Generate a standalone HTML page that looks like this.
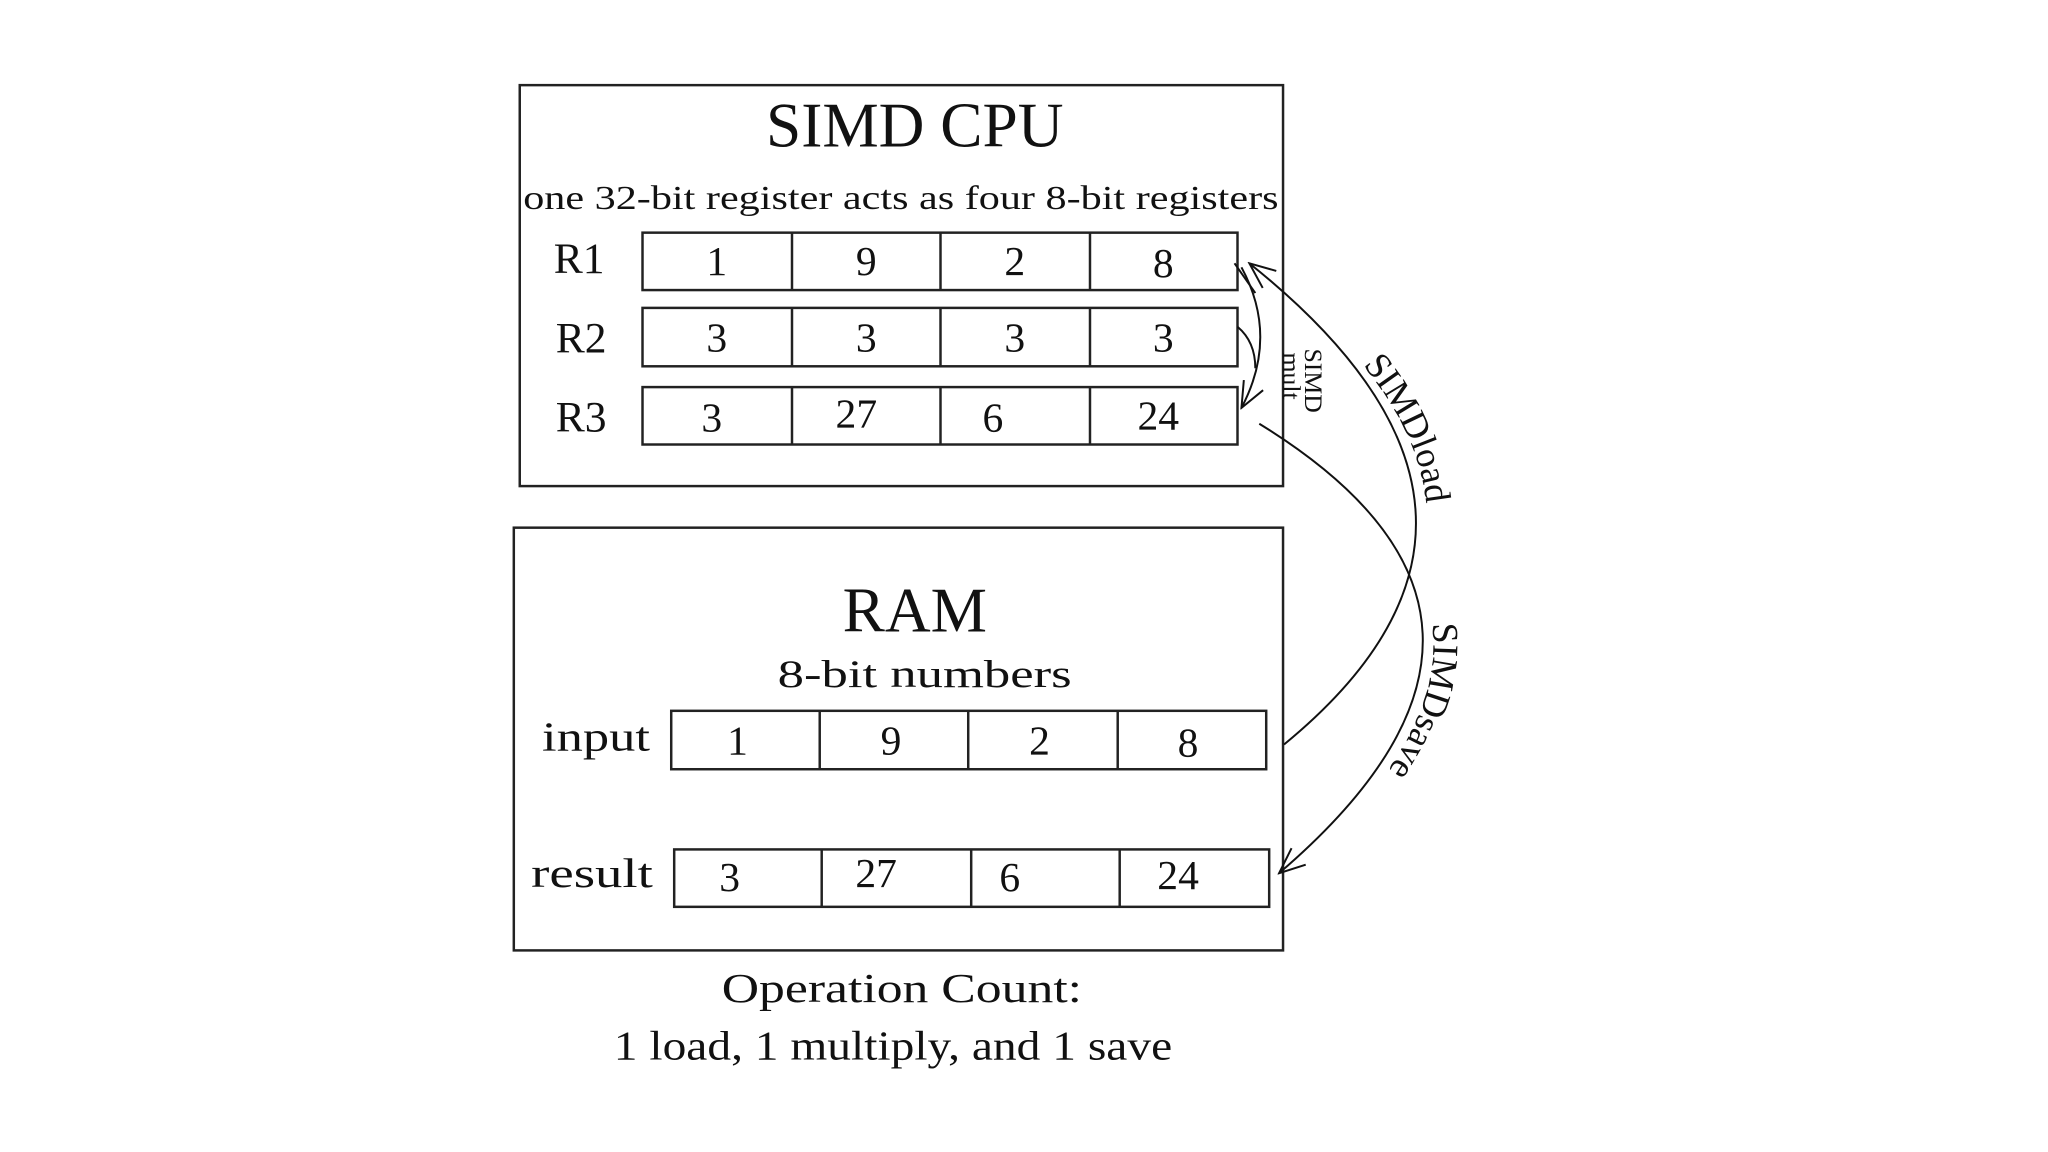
<!DOCTYPE html>
<html><head><meta charset="utf-8"><style>
html,body{margin:0;padding:0;background:#fff;}
svg{display:block;}
text{font-family:"Liberation Serif",serif;fill:#111;}
</style></head><body>
<svg width="2048" height="1152" viewBox="0 0 2048 1152" xmlns="http://www.w3.org/2000/svg">
<defs>
<marker id="ah" markerWidth="30" markerHeight="30" refX="28" refY="15" orient="auto" markerUnits="userSpaceOnUse">
<path d="M2,4 L28,15 L2,26" fill="none" stroke="#111" stroke-width="2"/>
</marker>
<path id="tl" d="M1262,262 Q1598,514 1305,752"/>
<path id="ts" d="M1272,422 Q1608,625 1302,884"/>
</defs>
<g transform="scale(0.99)">
<g fill="none" stroke="#222" stroke-width="2.5">
<rect x="525" y="86" width="771" height="405"/>
<rect x="519" y="533" width="777" height="427"/>
<rect x="649" y="235" width="601" height="58"/>
<line x1="800" y1="235" x2="800" y2="293"/><line x1="950" y1="235" x2="950" y2="293"/><line x1="1101" y1="235" x2="1101" y2="293"/>
<rect x="649" y="311" width="601" height="59"/>
<line x1="800" y1="311" x2="800" y2="370"/><line x1="950" y1="311" x2="950" y2="370"/><line x1="1101" y1="311" x2="1101" y2="370"/>
<rect x="649" y="391" width="601" height="58"/>
<line x1="800" y1="391" x2="800" y2="449"/><line x1="950" y1="391" x2="950" y2="449"/><line x1="1101" y1="391" x2="1101" y2="449"/>
<rect x="678" y="718" width="601" height="59"/>
<line x1="828" y1="718" x2="828" y2="777"/><line x1="978" y1="718" x2="978" y2="777"/><line x1="1129" y1="718" x2="1129" y2="777"/>
<rect x="681" y="858" width="601" height="58"/>
<line x1="830" y1="858" x2="830" y2="916"/><line x1="981" y1="858" x2="981" y2="916"/><line x1="1131" y1="858" x2="1131" y2="916"/>
</g>
<g fill="none" stroke="#111" stroke-width="2">
<path d="M1297,752 Q1580,520 1262,266" marker-end="url(#ah)"/>
<path d="M1272,428 Q1592,625 1292,882" marker-end="url(#ah)"/>
<path d="M1254,270 Q1292,340 1254,412" marker-end="url(#ah)"/>
<path d="M1250,330 Q1268,345 1268,372"/>
<path d="M1247,266 L1268,296"/>
</g>
<g text-anchor="middle">
<text x="924" y="148" font-size="64">SIMD CPU</text>
<text x="910" y="211" font-size="34" textLength="763" lengthAdjust="spacingAndGlyphs">one 32-bit register acts as four 8-bit registers</text>
<text x="585" y="276" font-size="44">R1</text>
<text x="587" y="356" font-size="44">R2</text>
<text x="587" y="436" font-size="44">R3</text>
<g font-size="42">
<text x="724" y="278">1</text><text x="875" y="278">9</text><text x="1025" y="278">2</text><text x="1175" y="280">8</text>
<text x="724" y="355">3</text><text x="875" y="355">3</text><text x="1025" y="355">3</text><text x="1175" y="355">3</text>
<text x="719" y="436">3</text><text x="865" y="432">27</text><text x="1003" y="436">6</text><text x="1170" y="434">24</text>
<text x="745" y="762">1</text><text x="900" y="762">9</text><text x="1050" y="762">2</text><text x="1200" y="764">8</text>
<text x="737" y="900">3</text><text x="885" y="896">27</text><text x="1020" y="900">6</text><text x="1190" y="898">24</text>
</g>
<text x="924" y="638" font-size="64">RAM</text>
<text x="934" y="694" font-size="40" textLength="297" lengthAdjust="spacingAndGlyphs">8-bit numbers</text>
<text x="602" y="758" font-size="42" textLength="109" lengthAdjust="spacingAndGlyphs">input</text>
<text x="598" y="896" font-size="42" textLength="123" lengthAdjust="spacingAndGlyphs">result</text>
<text x="911" y="1012" font-size="42" textLength="364" lengthAdjust="spacingAndGlyphs">Operation Count:</text>
<text x="902" y="1070" font-size="42" textLength="564" lengthAdjust="spacingAndGlyphs">1 load, 1 multiply, and 1 save</text>
</g>
<text font-size="26" transform="translate(1318,352) rotate(90)">SIMD</text>
<text font-size="26" transform="translate(1296,356) rotate(90)">mult</text>
<text font-size="37"><textPath href="#tl" startOffset="26%">SIMDload</textPath></text>
<text font-size="37"><textPath href="#ts" startOffset="48%">SIMDsave</textPath></text>
</g>
</svg>
</body></html>
